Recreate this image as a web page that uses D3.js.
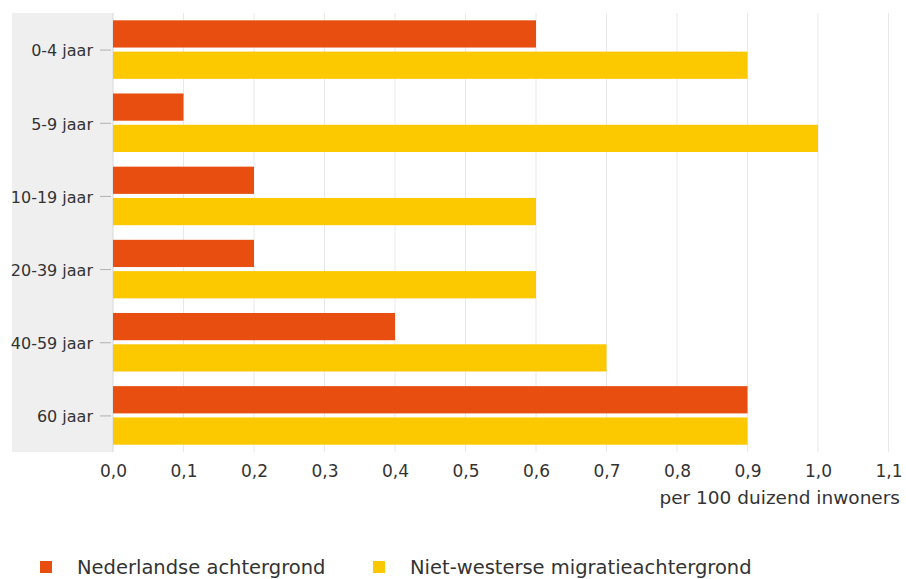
<!DOCTYPE html>
<html>
<head>
<meta charset="utf-8">
<script src="https://cdn.jsdelivr.net/npm/d3@7"></script>
<style>
    body { margin: 0; background: #fff; }
    text { font-family: "DejaVu Sans", Verdana, sans-serif; fill: #333; }
</style>
</head>
<body>
<div id="chart"></div>
<script>
// age groups and both series
var categories = ['0-4 jaar', '5-9 jaar', '10-19 jaar', '20-39 jaar', '40-59 jaar', '60 jaar'];
var seriesNames = ['Nederlandse achtergrond', 'Niet-westerse migratieachtergrond'];
var nederlands = [0.6, 0.1, 0.2, 0.2, 0.4, 0.9];
var nietWesters = [0.9, 1.0, 0.6, 0.6, 0.7, 0.9];
var xTicks = [0, 0.1, 0.2, 0.3, 0.4, 0.5, 0.6, 0.7, 0.8, 0.9, 1.0, 1.1];
var colors = ['#e84e0f', '#fcc800'];

var width = 906, height = 579;
var plotLeft = 113, plotRight = 888.5, plotTop = 13, plotBottom = 452;

var svg = d3.select('#chart').append('svg').attr('width', width).attr('height', height);

var x = d3.scaleLinear().domain([0, 1.1]).range([plotLeft, plotRight]);
var y0 = d3.scaleBand().domain(categories).range([plotTop, plotBottom]).paddingInner(0.2).paddingOuter(0.1);
var y1 = d3.scaleBand().domain(seriesNames).range([0, y0.bandwidth()]).paddingInner(0.13);

// grey band behind the category labels
svg.append('rect').attr('x', 12).attr('y', plotTop).attr('width', plotLeft - 12).attr('height', plotBottom - plotTop)
    .attr('fill', '#efefef');

// vertical grid lines
svg.selectAll('line.grid').data(xTicks).enter().append('line')
    .attr('class', 'grid')
    .attr('x1', function(d) { return x(d); })
    .attr('x2', function(d) { return x(d); })
    .attr('y1', plotTop).attr('y2', plotBottom)
    .attr('stroke', function(d) { return d === 0 ? '#d8d8d8' : '#e8e8e8'; })
    .attr('stroke-width', 1);

var rows = categories.map(function(c, i) {
    return { cat: c, values: [nederlands[i], nietWesters[i]] };
});

var groups = svg.selectAll('g.row').data(rows).enter().append('g')
    .attr('class', 'row')
    .attr('transform', function(d) { return 'translate(0,' + y0(d.cat) + ')'; });

groups.selectAll('rect').data(function(d) {
    return d.values.map(function(v, j) { return { name: seriesNames[j], value: v, j: j }; });
}).enter().append('rect')
    .attr('x', x(0))
    .attr('y', function(d) { return y1(d.name); })
    .attr('width', function(d) { return x(d.value) - x(0); })
    .attr('height', y1.bandwidth())
    .attr('fill', function(d) { return colors[d.j]; });

// category axis
var yAxis = d3.axisLeft(d3.scalePoint().domain(categories).range([plotTop + y0.step() / 2, plotBottom - y0.step() / 2]))
    .tickSize(11).tickPadding(7);
var ya = svg.append('g').attr('transform', 'translate(' + (plotLeft - 2) + ',0)').call(yAxis);
ya.select('.domain').remove();
ya.selectAll('.tick line').attr('stroke', '#b0b0b0');
ya.selectAll('.tick text').attr('font-size', 16).attr('fill', '#333').attr('dy', '0.4em')
    .attr('font-family', '"DejaVu Sans", Verdana, sans-serif');

// value axis
var xAxis = d3.axisBottom(x).tickValues(xTicks).tickSize(0).tickPadding(13)
    .tickFormat(function(d) { return d3.format('.1f')(d).replace('.', ','); });
var xa = svg.append('g').attr('transform', 'translate(0,' + plotBottom + ')').call(xAxis);
xa.select('.domain').remove();
xa.selectAll('.tick text').attr('font-size', 17).attr('fill', '#333')
    .attr('font-family', '"DejaVu Sans", Verdana, sans-serif');

svg.append('text').attr('x', 900).attr('y', 504).attr('text-anchor', 'end')
    .attr('font-size', 18.5).text('per 100 duizend inwoners');

// legend
var legendX = [40, 373];
var legend = svg.selectAll('g.legend').data(seriesNames).enter().append('g')
    .attr('class', 'legend')
    .attr('transform', function(d, i) { return 'translate(' + legendX[i] + ',561)'; });
legend.append('rect').attr('width', 12).attr('height', 12)
    .attr('fill', function(d, i) { return colors[i]; });
legend.append('text').attr('x', 37).attr('y', 13).attr('font-size', 19.5)
    .text(function(d) { return d; });
</script>
</body>
</html>
